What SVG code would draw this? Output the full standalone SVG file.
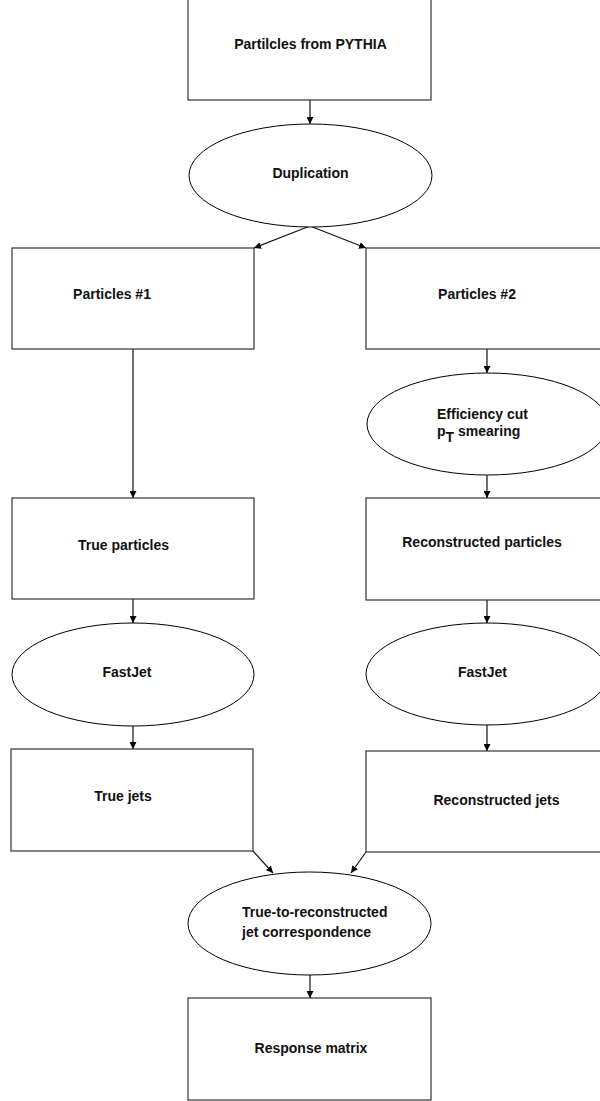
<svg xmlns="http://www.w3.org/2000/svg" width="600" height="1101" viewBox="0 0 600 1101">
<defs>
<marker id="ah" viewBox="0 0 10 10" refX="10" refY="5" markerWidth="7" markerHeight="7" markerUnits="userSpaceOnUse" orient="auto">
<path d="M0,0 L10,5 L0,10 Z" fill="#000"/>
</marker>
</defs>
<style>
.box{fill:#fff;stroke:#333;stroke-width:1.2}
.ell{fill:#fff;stroke:#000;stroke-width:1}
.lbl{font-family:"Liberation Sans",Arial,sans-serif;font-size:14px;font-weight:bold;fill:#111}
.mid{text-anchor:middle}
.edge{fill:none;stroke:#111;stroke-width:1.2;marker-end:url(#ah)}
</style>
<rect width="600" height="1101" fill="#fff"/>
<g id="connectors">
<line class="edge" x1="310" y1="100" x2="310" y2="124"/>
<line class="edge" x1="310" y1="226" x2="254" y2="248"/>
<line class="edge" x1="310" y1="226" x2="366" y2="248"/>
<line class="edge" x1="133" y1="349" x2="133" y2="498"/>
<line class="edge" x1="487" y1="349" x2="487" y2="373"/>
<line class="edge" x1="487" y1="475" x2="487" y2="498"/>
<line class="edge" x1="133" y1="599" x2="133" y2="623"/>
<line class="edge" x1="487" y1="600" x2="487" y2="623"/>
<line class="edge" x1="133" y1="726" x2="133" y2="749"/>
<line class="edge" x1="487" y1="725" x2="487" y2="751"/>
<line class="edge" x1="253" y1="851" x2="273" y2="873"/>
<line class="edge" x1="366" y1="852" x2="351" y2="873"/>
<line class="edge" x1="310" y1="975" x2="310" y2="998"/>
</g>
<g id="n-pythia">
<rect class="box" x="188" y="-1" width="243" height="101"/>
<text class="lbl mid" x="310.5" y="49">Partilcles from PYTHIA</text>
</g>
<g id="n-duplication">
<ellipse class="ell" cx="310.5" cy="175.5" rx="121.5" ry="51.5"/>
<text class="lbl mid" x="310.5" y="178">Duplication</text>
</g>
<g id="n-particles1">
<rect class="box" x="12" y="248" width="242" height="101"/>
<text class="lbl mid" x="112" y="299">Particles #1</text>
</g>
<g id="n-particles2">
<rect class="box" x="366" y="248" width="242" height="101"/>
<text class="lbl mid" x="477" y="299">Particles #2</text>
</g>
<g id="n-efficiency">
<ellipse class="ell" cx="487.5" cy="424" rx="120.5" ry="51"/>
<text class="lbl" x="437" y="419">Efficiency cut</text>
<text class="lbl" x="437" y="436">p<tspan dy="6">T</tspan><tspan dy="-6"> smearing</tspan></text>
</g>
<g id="n-trueparticles">
<rect class="box" x="12" y="498" width="242" height="101"/>
<text class="lbl mid" x="123.5" y="550">True particles</text>
</g>
<g id="n-recoparticles">
<rect class="box" x="366" y="498" width="242" height="102"/>
<text class="lbl mid" x="482" y="547">Reconstructed particles</text>
</g>
<g id="n-fastjet1">
<ellipse class="ell" cx="133" cy="674.5" rx="121" ry="51.5"/>
<text class="lbl mid" x="127" y="677">FastJet</text>
</g>
<g id="n-fastjet2">
<ellipse class="ell" cx="487" cy="674" rx="121" ry="51"/>
<text class="lbl mid" x="482.5" y="677">FastJet</text>
</g>
<g id="n-truejets">
<rect class="box" x="11" y="749" width="242" height="102"/>
<text class="lbl mid" x="123" y="801">True jets</text>
</g>
<g id="n-recojets">
<rect class="box" x="366" y="751" width="242" height="101"/>
<text class="lbl mid" x="496.5" y="805">Reconstructed jets</text>
</g>
<g id="n-correspondence">
<ellipse class="ell" cx="309.5" cy="923.5" rx="121.5" ry="51.5"/>
<text class="lbl" x="242" y="917">True-to-reconstructed</text>
<text class="lbl" x="242" y="937">jet correspondence</text>
</g>
<g id="n-response">
<rect class="box" x="188" y="998" width="243" height="102"/>
<text class="lbl mid" x="311" y="1053">Response matrix</text>
</g>
</svg>
